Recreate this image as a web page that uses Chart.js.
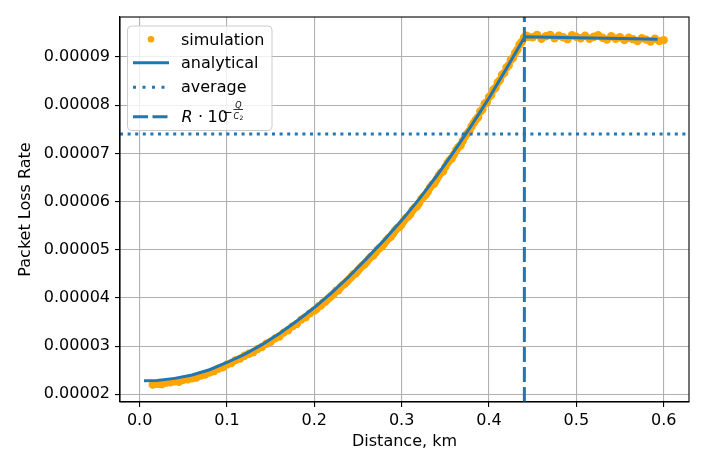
<!DOCTYPE html>
<html>
<head>
<meta charset="utf-8">
<title>Packet Loss Rate vs Distance</title>
<script src="https://cdn.jsdelivr.net/npm/chart.js@4.4.1/dist/chart.umd.min.js"></script>
<style>
    html, body { margin: 0; padding: 0; background: #fff; }
    #wrap { width: 706px; height: 471px; }
</style>
</head>
<body>
<div id="wrap"><canvas id="plr-chart" width="706" height="471"></canvas></div>
<script>
// Packet loss values are kept in units of 1e-5

// Simulation samples (denser where the curve is steep)
const simX = [
    0.015, 0.02, 0.025, 0.03, 0.035, 0.04, 0.045, 0.05, 0.055, 0.06,
    0.065, 0.07, 0.075, 0.08, 0.085, 0.09, 0.095, 0.1, 0.105, 0.11,
    0.115, 0.12, 0.125, 0.13, 0.135, 0.14, 0.145, 0.15, 0.155, 0.16,
    0.165, 0.17, 0.175, 0.18, 0.185, 0.19, 0.195,
    0.2, 0.2025, 0.205, 0.2075, 0.21, 0.2125, 0.215, 0.2175, 0.22, 0.2225,
    0.225, 0.2275, 0.23, 0.2325, 0.235, 0.2375, 0.24, 0.2425, 0.245, 0.2475,
    0.25, 0.2525, 0.255, 0.2575, 0.26, 0.2625, 0.265, 0.2675, 0.27, 0.2725,
    0.275, 0.2775, 0.28, 0.2825, 0.285, 0.2875, 0.29, 0.2925, 0.295, 0.2975,
    0.3, 0.3025, 0.305, 0.3075, 0.31, 0.3125, 0.315, 0.3175, 0.32, 0.3225,
    0.325, 0.3275, 0.33, 0.3325, 0.335, 0.3375, 0.34, 0.3425, 0.345, 0.3475,
    0.35, 0.3525, 0.355, 0.3575, 0.36, 0.3625, 0.365, 0.3675, 0.37, 0.3725,
    0.375, 0.3775, 0.38, 0.3825, 0.385, 0.3875, 0.39, 0.3925, 0.395, 0.3975,
    0.4, 0.4025, 0.405, 0.4075, 0.41, 0.4125, 0.415, 0.4175, 0.42, 0.4225,
    0.425, 0.4275, 0.43, 0.4325, 0.435, 0.4375, 0.44, 0.4425, 0.445,
    0.45, 0.455, 0.46, 0.465, 0.47, 0.475, 0.48, 0.485, 0.49, 0.495,
    0.5, 0.505, 0.51, 0.515, 0.52, 0.525, 0.53, 0.535, 0.54, 0.545,
    0.55, 0.555, 0.56, 0.565, 0.57, 0.575, 0.58, 0.585, 0.59, 0.595,
    0.6
];
const simY = [
    2.20, 2.22, 2.21, 2.24, 2.25, 2.27, 2.26, 2.30, 2.31, 2.33,
    2.35, 2.39, 2.41, 2.45, 2.48, 2.53, 2.56, 2.62, 2.65, 2.71,
    2.74, 2.80, 2.84, 2.87, 2.94, 2.98, 3.05, 3.09, 3.16, 3.20,
    3.28, 3.33, 3.41, 3.46, 3.55, 3.60, 3.68,
    3.74, 3.77, 3.83, 3.84, 3.90, 3.92, 3.97, 4.01, 4.05, 4.09,
    4.15, 4.16, 4.22, 4.27, 4.30, 4.34, 4.39, 4.44, 4.49, 4.51,
    4.57, 4.62, 4.67, 4.70, 4.75, 4.81, 4.86, 4.88, 4.94, 5.00,
    5.04, 5.07, 5.13, 5.19, 5.24, 5.27, 5.33, 5.40, 5.45, 5.47,
    5.53, 5.60, 5.66, 5.69, 5.74, 5.82, 5.87, 5.90, 5.97, 6.05,
    6.10, 6.14, 6.21, 6.29, 6.35, 6.38, 6.46, 6.54, 6.60, 6.63,
    6.72, 6.80, 6.86, 6.90, 6.98, 7.07, 7.13, 7.17, 7.26, 7.35,
    7.41, 7.46, 7.56, 7.63, 7.70, 7.75, 7.87, 7.91, 8.03, 8.06,
    8.17, 8.21, 8.32, 8.36, 8.47, 8.52, 8.63, 8.67, 8.78, 8.83,
    8.94, 8.98, 9.09, 9.15, 9.26, 9.31, 9.40, 9.44, 9.42,
    9.41, 9.46, 9.38, 9.43, 9.46, 9.39, 9.44, 9.41, 9.37, 9.45,
    9.42, 9.39, 9.44, 9.38, 9.42, 9.45, 9.40, 9.36, 9.43, 9.38,
    9.41, 9.35, 9.40, 9.37, 9.33, 9.39, 9.36, 9.32, 9.38, 9.33,
    9.35
];

// Analytical curve
const anaX = [0.005, 0.02, 0.04, 0.06, 0.08, 0.10, 0.12, 0.14, 0.16, 0.18, 0.20, 0.22, 0.24,
              0.26, 0.28, 0.30, 0.32, 0.34, 0.36, 0.38, 0.40, 0.42, 0.441, 0.50, 0.55, 0.593];
const anaY = [2.28, 2.285, 2.33, 2.40, 2.51, 2.66, 2.83, 3.03, 3.26, 3.52, 3.80, 4.11, 4.45,
              4.82, 5.20, 5.61, 6.05, 6.53, 7.04, 7.58, 8.15, 8.76, 9.42, 9.40, 9.385, 9.37];

// Average loss rate and the threshold distance R*10^(-Q/C2)
const averageY = 7.40;
const thresholdX = 0.4405;

// Axes
const xRange = [-0.0225, 0.629];
const yRange = [1.84, 9.83];
const xTicks = [0, 0.1, 0.2, 0.3, 0.4, 0.5, 0.6];
const xTickLabels = ['0.0', '0.1', '0.2', '0.3', '0.4', '0.5', '0.6'];
const yTicks = [2, 3, 4, 5, 6, 7, 8, 9];
const yTickLabels = ['0.00002', '0.00003', '0.00004', '0.00005', '0.00006', '0.00007', '0.00008', '0.00009'];

const BLUE = '#1f77b4';
const ORANGE = '#ffa500';
const FONT = 'DejaVu Sans';

function toPoints(xs, ys) {
    return xs.map((x, i) => ({ x: x, y: ys[i] }));
}

// Draws the top / right spines that matplotlib shows
const framePlugin = {
    id: 'frame',
    afterDraw(chart) {
        const a = chart.chartArea;
        const ctx = chart.ctx;
        ctx.save();
        ctx.strokeStyle = '#000';
        ctx.lineWidth = 1.1;
        ctx.strokeRect(a.left, a.top, a.right - a.left, a.bottom - a.top);
        ctx.restore();
    }
};

// Legend box in the upper left corner of the plot
const legendPlugin = {
    id: 'insideLegend',
    afterDraw(chart) {
        const ctx = chart.ctx;
        ctx.save();

        // box
        const bx = 127.5, by = 26, bw = 144.5, bh = 104.5, r = 4;
        ctx.beginPath();
        ctx.moveTo(bx + r, by);
        ctx.arcTo(bx + bw, by, bx + bw, by + bh, r);
        ctx.arcTo(bx + bw, by + bh, bx, by + bh, r);
        ctx.arcTo(bx, by + bh, bx, by, r);
        ctx.arcTo(bx, by, bx + bw, by, r);
        ctx.closePath();
        ctx.fillStyle = 'rgba(255,255,255,0.8)';
        ctx.fill();
        ctx.strokeStyle = '#cccccc';
        ctx.lineWidth = 1;
        ctx.stroke();

        const hx0 = 133, hx1 = 169, tx = 181;

        // simulation
        ctx.fillStyle = ORANGE;
        ctx.beginPath();
        ctx.arc(151, 39.3, 3.3, 0, Math.PI * 2);
        ctx.fill();

        // analytical / average / threshold handles
        ctx.strokeStyle = BLUE;
        ctx.lineWidth = 3;
        ctx.lineCap = 'butt';
        const handles = [[62.7, []], [87.3, [3, 6.5]], [116.7, [15, 4.5]]];
        handles.forEach(function(h) {
            ctx.setLineDash(h[1]);
            ctx.beginPath();
            ctx.moveTo(hx0, h[0]);
            ctx.lineTo(hx1, h[0]);
            ctx.stroke();
        });
        ctx.setLineDash([]);

        ctx.fillStyle = '#000';
        ctx.textBaseline = 'alphabetic';
        ctx.textAlign = 'left';
        ctx.font = '16px "' + FONT + '"';
        ctx.fillText('simulation', tx, 44.5);
        ctx.fillText('analytical', tx, 67.5);
        ctx.fillText('average', tx, 91.7);

        // R · 10^(-Q/C2)
        const base = 121.7;
        ctx.font = 'italic 16px "' + FONT + '"';
        ctx.fillText('R', 181.5, base);
        ctx.font = '16px "' + FONT + '"';
        ctx.fillText('·', 198, base);
        ctx.fillText('10', 207.5, base);
        ctx.font = '12px "' + FONT + '"';
        ctx.fillText('−', 222.5, 115.5);
        ctx.lineWidth = 0.8;
        ctx.strokeStyle = '#000';
        ctx.beginPath();
        ctx.moveTo(233.5, 109.5);
        ctx.lineTo(243, 109.5);
        ctx.stroke();
        ctx.font = 'italic 8px "' + FONT + '"';
        ctx.fillText('Q', 235.3, 107.5);
        ctx.fillText('C', 233.5, 118.5);
        ctx.font = '6px "' + FONT + '"';
        ctx.fillText('2', 239.5, 120);

        ctx.restore();
    }
};

function createPacketLossChart() {
    const ctx = document.getElementById('plr-chart').getContext('2d');

    new Chart(ctx, {
        type: 'scatter',
        data: {
            datasets: [
                {
                    label: 'average',
                    data: toPoints(xRange, [averageY, averageY]),
                    showLine: true,
                    borderColor: BLUE,
                    borderWidth: 3,
                    borderDash: [3, 4.6],
                    pointRadius: 0
                },
                {
                    label: 'threshold',
                    data: toPoints([thresholdX, thresholdX], yRange),
                    showLine: true,
                    borderColor: BLUE,
                    borderWidth: 3,
                    borderDash: [15, 5],
                    pointRadius: 0
                },
                {
                    label: 'analytical',
                    data: toPoints(anaX, anaY),
                    showLine: true,
                    borderColor: BLUE,
                    borderWidth: 3,
                    tension: 0,
                    pointRadius: 0
                },
                {
                    label: 'simulation',
                    data: toPoints(simX, simY),
                    showLine: false,
                    backgroundColor: ORANGE,
                    borderWidth: 0,
                    pointRadius: 4.2
                }
            ]
        },
        options: {
            responsive: false,
            animation: false,
            events: [],
            layout: {
                padding: { top: 17, right: 17, left: 0, bottom: 0 }
            },
            plugins: {
                legend: { display: false },
                tooltip: { enabled: false }
            },
            scales: {
                x: {
                    type: 'linear',
                    min: xRange[0],
                    max: xRange[1],
                    afterBuildTicks: function(scale) {
                        scale.ticks = xTicks.map(v => ({ value: v }));
                    },
                    afterFit: function(scale) {
                        scale.height = 69;
                    },
                    ticks: {
                        autoSkip: false,
                        maxRotation: 0,
                        padding: 4,
                        color: '#000',
                        font: { family: FONT, size: 16 },
                        callback: function(value, index) {
                            return xTickLabels[index];
                        }
                    },
                    grid: {
                        color: '#b0b0b0',
                        lineWidth: 1.1,
                        tickColor: '#000',
                        tickLength: 5
                    },
                    border: { color: '#000', width: 1.1 },
                    title: {
                        display: true,
                        text: 'Distance, km',
                        color: '#000',
                        font: { family: FONT, size: 16 },
                        padding: { top: 0, bottom: 20 }
                    }
                },
                y: {
                    type: 'linear',
                    min: yRange[0],
                    max: yRange[1],
                    afterBuildTicks: function(scale) {
                        scale.ticks = yTicks.map(v => ({ value: v }));
                    },
                    afterFit: function(scale) {
                        scale.width = 120;
                    },
                    ticks: {
                        autoSkip: false,
                        padding: 5,
                        color: '#000',
                        font: { family: FONT, size: 16 },
                        callback: function(value, index) {
                            return yTickLabels[index];
                        }
                    },
                    grid: {
                        color: '#b0b0b0',
                        lineWidth: 1.1,
                        tickColor: '#000',
                        tickLength: 5
                    },
                    border: { color: '#000', width: 1.1 },
                    title: {
                        display: true,
                        text: 'Packet Loss Rate',
                        color: '#000',
                        font: { family: FONT, size: 16 },
                        padding: { top: 16, bottom: 0 }
                    }
                }
            }
        },
        plugins: [framePlugin, legendPlugin]
    });
}

createPacketLossChart();
</script>
</body>
</html>
